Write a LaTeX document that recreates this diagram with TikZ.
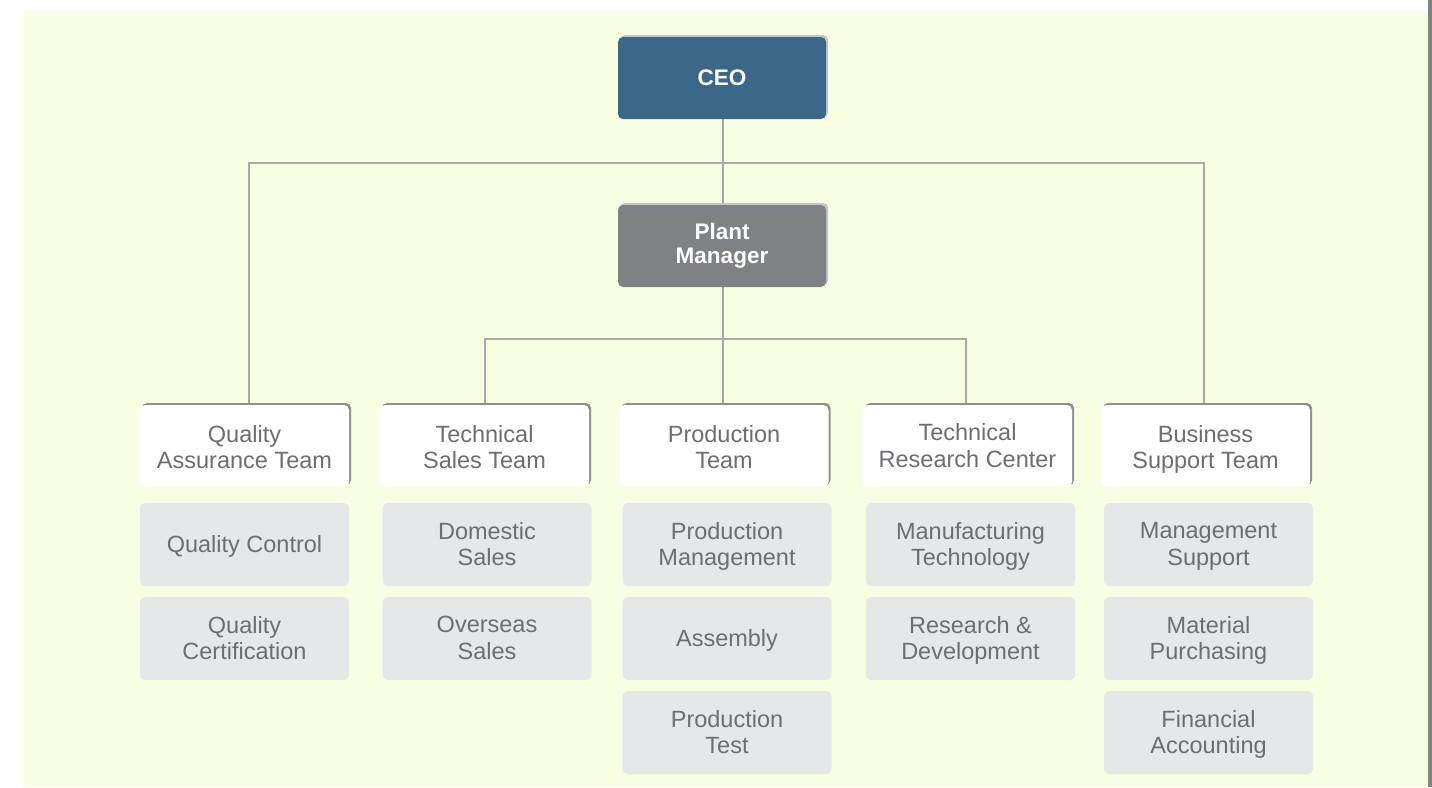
\documentclass[tikz,border=0pt]{standalone}
\usepackage{fontspec}
\setmainfont{Liberation Sans}
\usetikzlibrary{shadows,backgrounds}
\definecolor{bgc}{HTML}{F8FEE2}
\definecolor{barc}{HTML}{808184}
\definecolor{ceoc}{HTML}{3B6889}
\definecolor{pmc}{HTML}{808184}
\definecolor{subc}{HTML}{E6E7E9}
\definecolor{txtc}{HTML}{6D6E71}
\definecolor{lshadow}{HTML}{C4C4C4}
\definecolor{dshadow}{HTML}{8E8F92}
\definecolor{connc}{HTML}{A7A9AC}
\newcommand{\mystrut}{\rule[-6pt]{0pt}{33.5pt}}
\newcommand{\teamstrut}{\rule[-6pt]{0pt}{38.5pt}}
\tikzset{
  topbox/.style={minimum width=208pt, minimum height=82pt, inner sep=0pt, rounded corners=5pt,
    align=center, text=white, font=\fontsize{22.5}{24}\selectfont\bfseries,
    general shadow={fill=lshadow, shadow xshift=2pt, shadow yshift=2pt}},
  ceobox/.style={topbox, fill=ceoc},
  pmbox/.style={topbox, fill=pmc},
  teambox/.style={minimum width=209pt, minimum height=82pt, inner sep=0pt, rounded corners=5pt,
    fill=white, general shadow={fill=dshadow, shadow xshift=2pt, shadow yshift=2pt}},
  teamtext/.style={inner sep=0pt, align=center, text=txtc, font=\fontsize{23.5}{26.5}\selectfont,
    execute at begin node=\teamstrut, execute at end node=\teamstrut},
  subbox/.style={minimum width=209pt, minimum height=83pt, inner sep=0pt, rounded corners=5pt,
    fill=subc},
  subtext/.style={inner sep=0pt, align=center, text=txtc, font=\fontsize{23.5}{26.5}\selectfont,
    execute at begin node=\mystrut, execute at end node=\mystrut},
  conn/.style={draw=connc, line width=1.4pt}
}
\begin{document}
\begin{tikzpicture}[x=1pt,y=-1pt]
\useasboundingbox (0,0) rectangle (1432,787);

% top nodes
\node[ceobox] (ceo) at (722,78) {CEO};
\node[pmbox] (pm) at (722,246) {Plant\\Manager};

% teams
\node[teambox] (qa) at (244.5,446) {};
\node[teambox] (ts) at (484.5,446) {};
\node[teambox] (pt) at (724,446) {};
\node[teambox] (trc) at (967.5,446) {};
\node[teambox] (bs) at (1205.5,446) {};
\node[teamtext] (qa-t) at ([yshift=-4pt]qa.center) {Quality\\Assurance Team};
\node[teamtext] (ts-t) at ([yshift=-4pt]ts.center) {Technical\\Sales Team};
\node[teamtext] (pt-t) at ([yshift=-4pt]pt.center) {Production\\Team};
\node[teamtext] (trc-t) at ([yshift=-2.5pt]trc.center) {Technical\\Research Center};
\node[teamtext] (bs-t) at ([yshift=-4pt]bs.center) {Business\\Support Team};

% sub boxes
\node[subbox] (qa1) at (244.5,544.5) {};
\node[subbox] (qa2) at (244.5,638.5) {};
\node[subbox] (ts1) at (487,544.5) {};
\node[subbox] (ts2) at (487,638.5) {};
\node[subbox] (pt1) at (727,544.5) {};
\node[subbox] (pt2) at (727,638.5) {};
\node[subbox] (pt3) at (727,732.5) {};
\node[subbox] (tr1) at (970.5,544.5) {};
\node[subbox] (tr2) at (970.5,638.5) {};
\node[subbox] (bs1) at (1208.5,544.5) {};
\node[subbox] (bs2) at (1208.5,638.5) {};
\node[subbox] (bs3) at (1208.5,732.5) {};

\node[subtext] (qa1-t) at ([yshift=2.5pt]qa1.center) {Quality Control};
\node[subtext] (qa2-t) at ([yshift=-2.5pt]qa2.center) {Quality\\Certification};
\node[subtext] (ts1-t) at ([yshift=-2.5pt]ts1.center) {Domestic\\Sales};
\node[subtext] (ts2-t) at ([yshift=-2.5pt]ts2.center) {Overseas\\Sales};
\node[subtext] (pt1-t) at ([yshift=-2.5pt]pt1.center) {Production\\Management};
\node[subtext] (pt2-t) at ([yshift=2.5pt]pt2.center) {Assembly};
\node[subtext] (pt3-t) at ([yshift=-2.5pt]pt3.center) {Production\\Test};
\node[subtext] (tr1-t) at ([yshift=-2.5pt]tr1.center) {Manufacturing\\Technology};
\node[subtext] (tr2-t) at ([yshift=-2.5pt]tr2.center) {Research \&\\Development};
\node[subtext] (bs1-t) at ([yshift=-2.5pt]bs1.center) {Management\\Support};
\node[subtext] (bs2-t) at ([yshift=-2.5pt]bs2.center) {Material\\Purchasing};
\node[subtext] (bs3-t) at ([yshift=-2.5pt]bs3.center) {Financial\\Accounting};

% junction coordinates
\coordinate (j1) at (723,163);
\coordinate (j2) at (723,339);

\begin{pgfonlayer}{background}
\fill[bgc] (24,11) rectangle (1428,787);
\fill[barc] (1428,0) rectangle (1432,787);
% connectors
\draw[conn] (ceo.south -| j1) -- (pm.north -| j1);
\draw[conn] ([xshift=4.5pt]qa.north) |- (j1) -| ([xshift=-1.5pt]bs.north);
\draw[conn] (pm.south -| j2) -- (pt.north -| j2);
\draw[conn] ([xshift=0.5pt]ts.north) |- (j2) -| ([xshift=-1.5pt]trc.north);
\end{pgfonlayer}
\end{tikzpicture}
\end{document}
